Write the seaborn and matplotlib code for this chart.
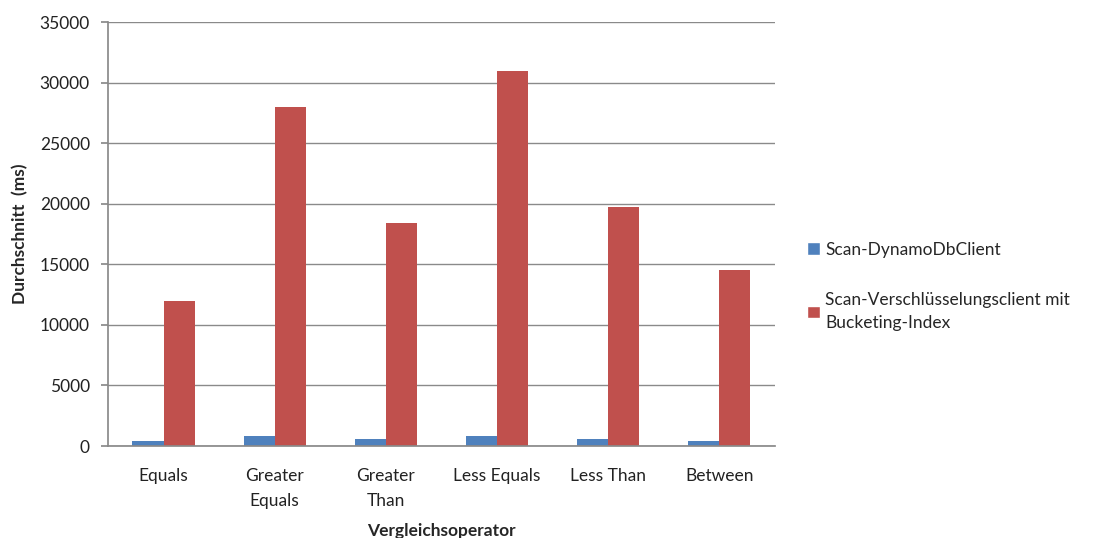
import matplotlib
matplotlib.use("Agg")
import matplotlib.pyplot as plt
import seaborn as sns
import pandas as pd
from matplotlib.patches import Patch

categories = ["Equals", "Greater\nEquals", "Greater\nThan", "Less Equals", "Less Than", "Between"]
series_names = ["Scan-DynamoDbClient", "Scan-Verschlüsselungsclient mit\nBucketing-Index"]
dynamo_values = [420, 820, 540, 820, 540, 420]
encrypted_values = [12000, 28000, 18400, 30950, 19700, 14550]
y_ticks = [0, 5000, 10000, 15000, 20000, 25000, 30000, 35000]
colors = ["#4F81BD", "#C0504D"]

rows = []
for c, v in zip(categories, dynamo_values):
    rows.append({"cat": c, "series": series_names[0], "val": v})
for c, v in zip(categories, encrypted_values):
    rows.append({"cat": c, "series": series_names[1], "val": v})
df = pd.DataFrame(rows)

sns.set_theme(style="white")
plt.rcParams["font.family"] = ["Lato", "DejaVu Sans"]

fig = plt.figure(figsize=(10.96, 5.38), dpi=100)
ax = fig.add_axes([0.0985, 0.171, 0.6085, 0.788])

sns.barplot(data=df, x="cat", y="val", hue="series", order=categories,
            hue_order=series_names, palette=colors, width=0.56,
            saturation=1, ax=ax, legend=False, errorbar=None, linewidth=0)

fs = 12.5
ax.set_ylim(0, 35000)
ax.set_yticks(y_ticks)
ax.set_yticklabels([str(t) for t in y_ticks], fontsize=fs, color="#222222")
ax.set_xticklabels(categories, fontsize=fs, color="#222222", linespacing=1.65)
ax.yaxis.grid(True, color="#8a8a8a", linewidth=1)
ax.set_axisbelow(True)
for s in ["top", "right"]:
    ax.spines[s].set_visible(False)
ax.spines["left"].set_color("#8a8a8a")
ax.spines["bottom"].set_color("#8a8a8a")
ax.tick_params(axis="y", length=5, color="#8a8a8a", left=True, pad=8)
ax.tick_params(axis="x", length=0, pad=16)
ax.set_xlabel("Vergleichsoperator", fontsize=fs, fontweight="bold", labelpad=10)
ax.set_ylabel("Durchschnitt  (ms)", fontsize=fs, fontweight="bold", labelpad=8)

handles = [Patch(facecolor=colors[0]), Patch(facecolor=colors[1])]
leg = fig.legend(handles, series_names, loc="upper left", bbox_to_anchor=(0.722, 0.58),
                 frameon=False, handlelength=0.75, handleheight=0.75,
                 handletextpad=0.3, labelspacing=2.0, prop={"size": fs})
leg.get_texts()[1].set_linespacing(1.5)

fig.savefig("out.png", dpi=100)
